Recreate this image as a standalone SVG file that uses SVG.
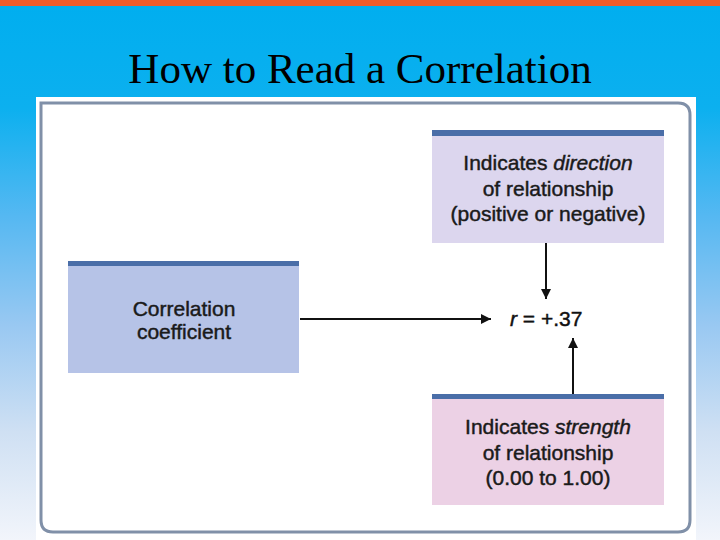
<svg xmlns="http://www.w3.org/2000/svg" width="720" height="540" viewBox="0 0 720 540">
  <defs>
    <linearGradient id="bg" x1="0" y1="0" x2="0" y2="1">
      <stop offset="0" stop-color="#00aeef"/>
      <stop offset="0.2" stop-color="#0cb0ef"/>
      <stop offset="0.4" stop-color="#55b8f2"/>
      <stop offset="0.6" stop-color="#98c8f2"/>
      <stop offset="0.8" stop-color="#cfe0f3"/>
      <stop offset="1" stop-color="#f2f5fb"/>
    </linearGradient>
    <marker id="ah" viewBox="0 0 10 10" refX="10" refY="5" markerWidth="10" markerHeight="10" markerUnits="userSpaceOnUse" orient="auto">
      <path d="M0,0 L10,5 L0,10 Z" fill="#111"/>
    </marker>
  </defs>
  <style>
    .bar { fill: #4a6ea8; }
    .lbl { font-family: "Liberation Sans", Arial, sans-serif; font-size: 21px; fill: #1a1a1a; stroke: #1a1a1a; stroke-width: 0.45px; text-anchor: middle; }
    .conn { stroke: #111; stroke-width: 2; fill: none; marker-end: url(#ah); }
  </style>
  <rect x="0" y="0" width="720" height="540" fill="url(#bg)"/>
  <rect x="0" y="0" width="720" height="6" fill="#ef5b2a"/>
  <text x="360" y="83" font-family="'Liberation Serif', 'Times New Roman', serif" font-size="43" fill="#000" text-anchor="middle">How to Read a Correlation</text>
  <rect x="36" y="97" width="660" height="443" fill="#ffffff"/>
  <path d="M41,103 H678 Q690,103 690,115 V520 Q690,532 678,532 H53 Q41,532 41,520 Z" fill="none" stroke="#8090a8" stroke-width="3"/>

  <g id="direction">
    <rect x="432" y="130" width="232" height="113" fill="#dcd6ee"/>
    <rect class="bar" x="432" y="130" width="232" height="6"/>
    <text class="lbl" x="548" y="170">Indicates <tspan font-style="italic">direction</tspan></text>
    <text class="lbl" x="548" y="196">of relationship</text>
    <text class="lbl" x="548" y="221">(positive or negative)</text>
  </g>

  <g id="coefficient">
    <rect x="68" y="261" width="231" height="112" fill="#b6c3e7"/>
    <rect class="bar" x="68" y="261" width="231" height="5"/>
    <text class="lbl" x="184" y="316">Correlation</text>
    <text class="lbl" x="184" y="339">coefficient</text>
  </g>

  <g id="strength">
    <rect x="432" y="394" width="232" height="111" fill="#ecd1e5"/>
    <rect class="bar" x="432" y="394" width="232" height="5"/>
    <text class="lbl" x="548" y="434">Indicates <tspan font-style="italic">strength</tspan></text>
    <text class="lbl" x="548" y="460">of relationship</text>
    <text class="lbl" x="548" y="485">(0.00 to 1.00)</text>
  </g>

  <g id="value">
    <text x="510" y="326" font-family="'Liberation Sans', Arial, sans-serif" font-size="21" fill="#111" stroke="#111" stroke-width="0.45"><tspan font-style="italic">r</tspan> = +.37</text>
  </g>

  <g id="connectors">
    <line class="conn" x1="300" y1="319" x2="491" y2="319"/>
    <line class="conn" x1="546" y1="243" x2="546" y2="299"/>
    <line class="conn" x1="573" y1="394" x2="573" y2="338"/>
  </g>
</svg>
